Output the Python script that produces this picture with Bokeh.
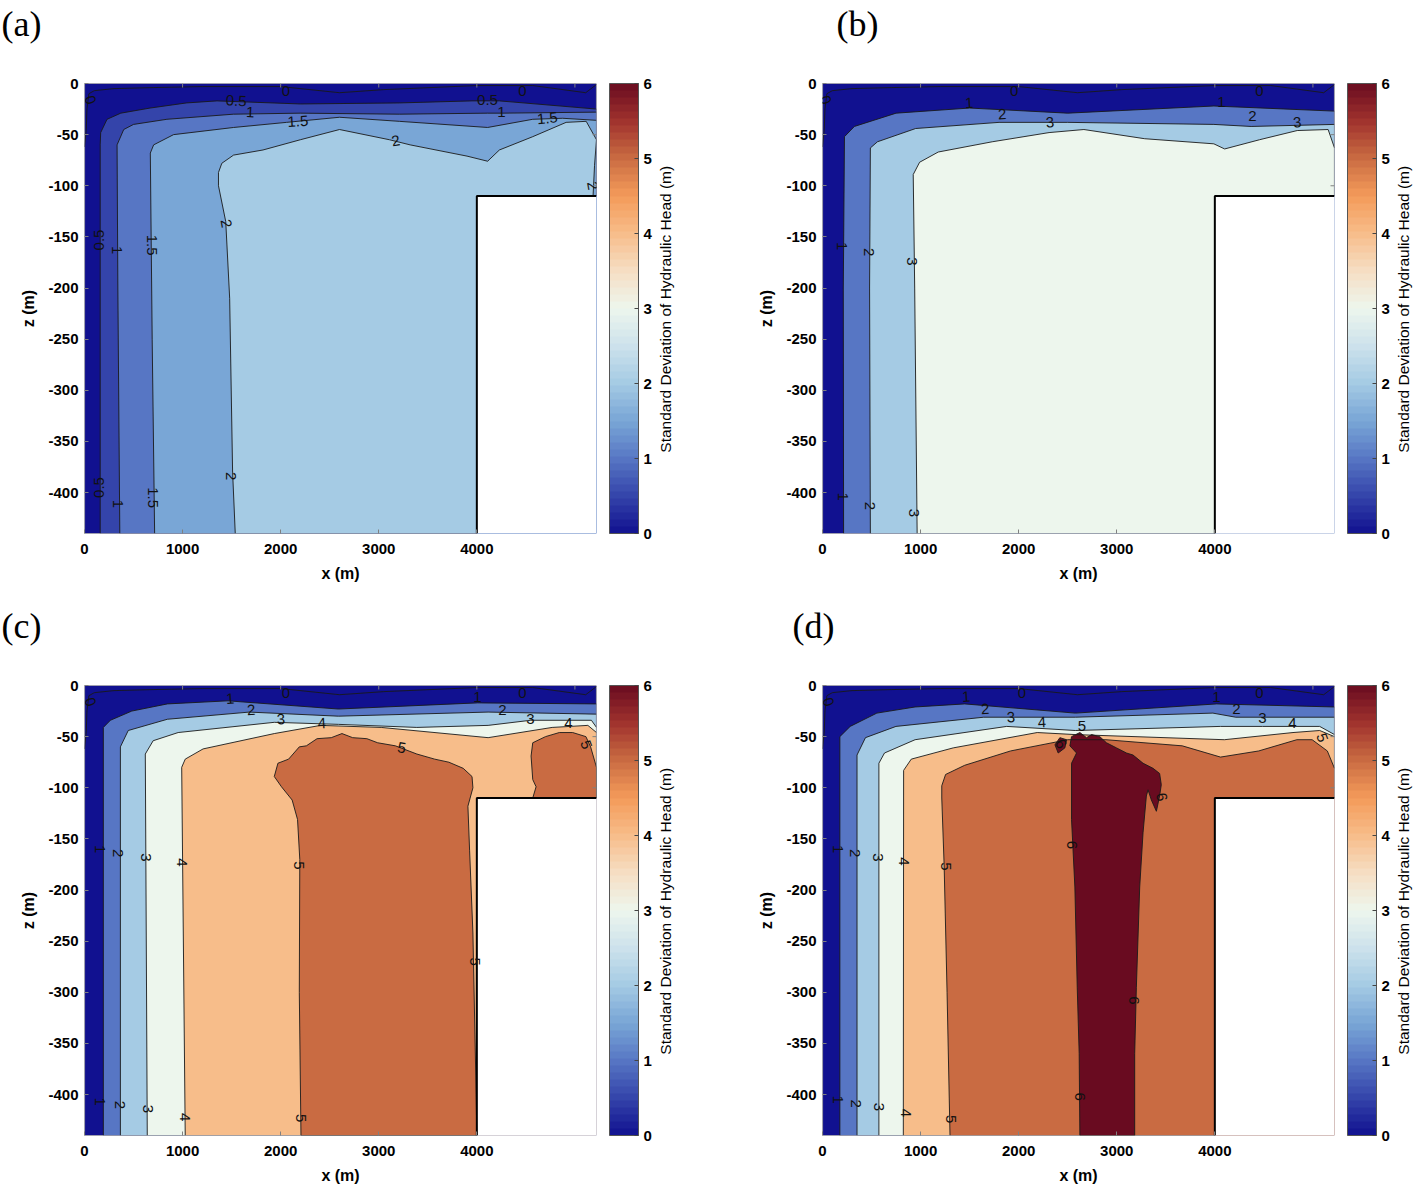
import numpy as np
from bokeh.plotting import figure
from bokeh.models import (ColorBar, LinearColorMapper, FixedTicker, Range1d,
                          ColumnDataSource, LinearAxis)
from bokeh.layouts import gridplot
from bokeh.embed import file_html
from bokeh.resources import INLINE
from bokeh.core.properties import value

# ---------------- domain ----------------
X_MAX = 5220
Z_MIN = -440
X_NOTCH = 4000
Z_NOTCH = -110

# ---------------- colour map (value -> colour anchors) ----------------
CMAP_VALUES = [0, 0.5, 1, 1.5, 2, 2.5, 3, 3.5, 4, 4.5, 5, 5.5, 6]
CMAP_COLORS = ["#111190", "#3444aa", "#5776c4", "#79a6d6", "#a5cbe4", "#cde2ec",
               "#edf6ed", "#f6dec4", "#f7bd8a", "#f49b5a", "#c96b42", "#a0322d", "#690b20"]
N_STEPS = 64

# ---------------- shared 0 contour ----------------
ZERO_X = [0, 18, 25, 45, 100, 300, 700, 1200, 2000, 2600, 3050, 4000, 4570, 5110, 5220]
ZERO_Z = [-62, -45, -25, -10, -7, -5, -4, -3, -3, -9, -6, -2, -2, -9, -1]

# ---------------- panel (a) ----------------
A_LEVELS = [0.5, 1, 1.5, 2]
A_L05_X = [160, 160, 165, 230, 370, 670, 1040, 1350, 2200, 3210, 3950, 4230, 5220]
A_L05_Z = [-440, -60, -48, -35, -29, -24, -19, -17, -20, -19, -17, -17, -25]
A_L1_X = [360, 340, 332, 400, 500, 840, 1520, 2200, 3210, 4110, 4260, 5220]
A_L1_Z = [-440, -200, -60, -45, -40, -35, -30, -29, -30, -29, -29, -28]
A_L15_X = [715, 690, 671, 705, 908, 1520, 2060, 2600, 3210, 4110, 4570, 4875, 5220]
A_L15_Z = [-440, -250, -68, -60, -50, -43, -38, -33, -37, -43, -35, -34, -36]
A_L2_X = [1537, 1510, 1480, 1440, 1366, 1366, 1400, 1520, 1820, 2200, 2600, 3110, 3320,
          3900, 4110, 4230, 4570, 4910, 5115, 5220, 5200, 5185]
A_L2_Z = [-440, -380, -210, -135, -100, -87, -78, -70, -65, -55, -45, -55, -60,
          -71, -76, -65, -52, -38, -37, -55, -80, -110]
A_LAB_TEXT = ["0", "0", "0", "0.5", "0.5", "1", "1", "1.5", "1.5", "2", "2", "2", "2",
              "0.5", "1", "1.5", "0.5", "1", "1.5"]
A_LAB_X = [61, 2054, 4465, 1546, 4109, 1688, 4251, 2176, 4719, 3173, 1444, 1495, 5180,
           150, 335, 690, 150, 345, 700]
A_LAB_Z = [-16, -7, -7, -17, -16, -28, -28, -37, -34, -56, -137, -384, -100,
           -153, -163, -158, -395, -411, -405]
A_LAB_ANGLE = [-70, 0, 0, -3, 0, -3, 0, 3, 5, 10, -80, -90, -80,
               90, -90, -90, 90, -90, -90]

# ---------------- panel (b) ----------------
B_LEVELS = [1, 2, 3]
B_L1_X = [215, 212, 224, 325, 750, 1500, 2500, 3990, 5220]
B_L1_Z = [-440, -200, -52, -42, -29, -24, -29, -22, -27]
B_L2_X = [488, 480, 488, 560, 950, 1800, 2500, 3990, 4370, 5220]
B_L2_Z = [-440, -200, -63, -57, -44, -38, -38, -40, -42, -40]
B_L3_X = [965, 940, 925, 990, 1180, 1730, 2310, 2665, 3285, 3990, 4100, 4455, 4840, 5155, 5220]
B_L3_Z = [-440, -200, -89, -77, -67, -57, -48, -45, -54, -59, -64, -55, -46, -45, -63]
B_LAB_TEXT = ["0", "0", "0", "1", "1", "2", "2", "3", "3", "1", "2", "3", "1", "2", "3"]
B_LAB_X = [31, 1953, 4455, 1495, 4068, 1831, 4383, 2319, 4841, 203, 478, 915, 214, 488, 935]
B_LAB_Z = [-16, -7, -7, -19, -18, -30, -32, -38, -38, -159, -165, -174, -404, -413, -420]
B_LAB_ANGLE = [-70, 0, 0, 3, 0, 3, 0, 5, 5, -90, -90, -90, -90, -90, -90]

# ---------------- panel (c) ----------------
C_LEVELS = [1, 2, 3, 4, 5]
C_L1_X = [192, 192, 264, 482, 845, 1463, 2589, 4006, 5220]
C_L1_Z = [-440, -41, -34, -25, -18, -15, -23, -17, -18]
C_L2_X = [366, 366, 446, 845, 1681, 2589, 4115, 5220]
C_L2_Z = [-440, -60, -44, -33, -26, -30, -26, -28]
C_L3_X = [640, 620, 700, 955, 1935, 2589, 3388, 4115, 4550, 5168, 5220]
C_L3_Z = [-440, -67, -54, -46, -36, -38, -41, -39, -34, -34, -41]
C_L4_X = [1027, 991, 1027, 1209, 1935, 2407, 3025, 4115, 4768, 5132, 5220]
C_L4_Z = [-440, -80, -72, -62, -47, -39, -41, -51, -41, -39, -46]
C_L5_X = [2207, 2190, 2195, 2172, 2117, 2008, 1935, 1972, 2081, 2190, 2262, 2371, 2516,
          2625, 2734, 2879, 2989, 3170, 3388, 3570, 3715, 3861, 3951, 3960, 3909, 3926,
          3960, 3993, 4000]
C_L5_Z = [-440, -300, -170, -131, -112, -99, -89, -76, -72, -60, -59, -52, -51,
          -47, -51, -52, -56, -59, -67, -72, -75, -81, -89, -100, -118, -161,
          -242, -400, -440]
C_L5B_X = [4570, 4604, 4570, 4553, 4570, 4700, 4841, 4977, 5112, 5160, 5220, 5220]
C_L5B_Z = [-110, -99, -92, -69, -56, -50, -46, -46, -50, -60, -80, -110]
C_LAB_TEXT = ["0", "0", "0", "1", "1", "2", "2", "3", "3", "4", "4", "5", "5", "5",
              "1", "2", "3", "4", "5", "1", "2", "3", "4", "5"]
C_LAB_X = [61, 2054, 4465, 1485, 4007, 1698, 4261, 2003, 4546, 2420, 4933, 3234, 5115, 3977,
           153, 346, 631, 997, 2190, 153, 366, 651, 1027, 2207]
C_LAB_Z = [-16, -7, -7, -13, -11, -24, -24, -33, -33, -37, -37, -61, -58, -270,
           -160, -164, -168, -173, -176, -407, -410, -414, -422, -423]
C_LAB_ANGLE = [-70, 0, 0, 3, 0, 3, 0, 3, 0, 3, 0, -10, -70, -90,
               -90, -90, -90, -90, -90, -90, -90, -90, -90, -90]

# ---------------- panel (d) ----------------
D_LEVELS = [1, 2, 3, 4, 5]
D_L1_X = [177, 177, 282, 554, 944, 1450, 2578, 4018, 5220]
D_L1_Z = [-440, -50, -40, -27, -21, -18, -27, -18, -21]
D_L2_X = [352, 352, 438, 749, 1644, 2578, 3980, 4213, 5220]
D_L2_Z = [-440, -68, -51, -40, -31, -31, -27, -31, -31]
D_L3_X = [575, 575, 632, 944, 1878, 2578, 4058, 4486, 5069, 5220]
D_L3_Z = [-440, -76, -66, -53, -40, -44, -40, -40, -40, -48]
D_L4_X = [824, 827, 905, 1333, 2189, 2578, 4097, 4797, 5069, 5220]
D_L4_Z = [-440, -83, -72, -61, -46, -48, -53, -46, -44, -50]
D_L5_X = [1300, 1270, 1240, 1216, 1216, 1255, 1450, 1917, 2501, 2890, 3668, 4058, 4447,
          4836, 4992, 5147, 5220]
D_L5_Z = [-440, -300, -175, -110, -98, -87, -78, -64, -53, -53, -59, -70, -64,
          -53, -53, -64, -81]
D_L6_X = [2624, 2617, 2597, 2573, 2539, 2539, 2590, 2522, 2539, 2624, 2692, 2743, 2827,
          2895, 2997, 3099, 3166, 3268, 3370, 3437, 3454, 3437, 3404, 3353, 3319, 3302,
          3268, 3234, 3200, 3183, 3183]
D_L6_Z = [-440, -360, -295, -197, -131, -76, -66, -59, -50, -46, -51, -48, -50,
          -56, -61, -66, -68, -76, -81, -86, -97, -108, -123, -112, -102, -108,
          -144, -197, -295, -360, -440]
D_L6B_X = [2370, 2420, 2488, 2471, 2403]
D_L6B_Z = [-58, -51, -53, -61, -66]
D_LAB_TEXT = ["0", "0", "0", "1", "1", "2", "2", "3", "3", "4", "4", "5", "5",
              "6", "6", "6", "6", "6",
              "1", "2", "3", "4", "5", "1", "2", "3", "4", "5"]
D_LAB_X = [61, 2034, 4455, 1464, 4017, 1658, 4221, 1922, 4486, 2237, 4790, 2645, 5095,
           2431, 3458, 2543, 3173, 2624,
           153, 336, 570, 834, 1261, 153, 346, 580, 854, 1307]
D_LAB_Z = [-16, -7, -7, -11, -11, -23, -23, -31, -32, -36, -37, -40, -51,
           -57, -109, -156, -308, -402,
           -160, -164, -168, -172, -177, -405, -409, -412, -418, -424]
D_LAB_ANGLE = [-70, 0, 0, 3, 0, 3, 0, 3, 0, 3, 0, 0, -70,
               -60, -80, -90, -90, -90,
               -90, -90, -90, -90, -90, -90, -90, -90, -90, -90]

CB_TICKS = [0, 1, 2, 3, 4, 5, 6]
X_TICKS = [0, 1000, 2000, 3000, 4000]
TOP_TICKS = [1000, 2000, 3000, 4000, 5000]
RIGHT_TICKS = [-50, -100]
Z_TICKS = [0, -50, -100, -150, -200, -250, -300, -350, -400]
CB_TITLE = "Standard Deviation of Hydraulic Head (m)"
CB_TITLE_Z = -361           # where the rotated colour-bar title starts (bottom end)

FRAME_W = 512
FRAME_H = 450
PX_X = X_MAX / FRAME_W      # metres per screen pixel (x)
PX_Z = 440 / FRAME_H        # metres per screen pixel (z)
NBSP = "\u00a0"


def hex2rgb(h):
    return [int(h[i:i + 2], 16) for i in (1, 3, 5)]


ANCHOR_RGB = np.array([hex2rgb(c) for c in CMAP_COLORS], dtype=float)


def color_at(v):
    rgb = [np.interp(v, CMAP_VALUES, ANCHOR_RGB[:, k]) for k in range(3)]
    return "#%02x%02x%02x" % tuple(int(round(c)) for c in rgb)


PALETTE = [color_at(v) for v in (np.arange(N_STEPS) + 0.5) * 6.0 / N_STEPS]

SANS = value("Liberation Sans")


def region(xs, zs):
    # area on the high side of an open contour: close along the right edge and the bottom
    px = list(xs) + [X_MAX, X_MAX]
    pz = list(zs) + [zs[-1], Z_MIN]
    return px, pz


def make_panel(tag, tag_x, tag_pad, levels, lines, blobs, lab, first_row, first_col):
    top = 83
    bottom = 69 if first_row else 56
    right = 142 if first_col else 84
    p = figure(frame_width=FRAME_W, frame_height=FRAME_H,
               x_range=Range1d(0, X_MAX), y_range=Range1d(Z_MIN, 0),
               output_backend="svg", toolbar_location=None,
               min_border_left=84, min_border_right=right,
               min_border_top=top, min_border_bottom=bottom)
    p.outline_line_color = None
    p.grid.visible = False
    p.background_fill_color = "white"

    # base band (lowest level)
    p.patch([0, X_MAX, X_MAX, 0], [0, 0, Z_MIN, Z_MIN], fill_color=color_at(0),
            line_color=None)
    for lev, (xs, zs) in zip(levels, lines):
        px, pz = region(xs, zs)
        p.patch(px, pz, fill_color=color_at(lev), line_color=None)
    for lev, xs, zs in blobs:
        p.patch(xs, zs, fill_color=color_at(lev), line_color=None)
    # notch (outside the model domain)
    p.patch([X_NOTCH, X_MAX, X_MAX, X_NOTCH], [Z_NOTCH, Z_NOTCH, Z_MIN, Z_MIN],
            fill_color="white", line_color=None)

    # contour lines
    p.line(ZERO_X, ZERO_Z, line_color="#1a1a1a", line_width=0.9)
    for xs, zs in lines:
        p.line(xs, zs, line_color="#1a1a1a", line_width=0.9)
    for lev, xs, zs in blobs:
        p.line(list(xs) + [xs[0]], list(zs) + [zs[0]], line_color="#1a1a1a", line_width=0.9)

    # domain outline
    p.line([0, 0, X_MAX, X_MAX], [Z_MIN, 0, 0, Z_NOTCH], line_color="#7f7f7f", line_width=1.2)
    p.line([X_NOTCH, 0], [Z_MIN, Z_MIN], line_color="#7f7f7f", line_width=1.2)
    p.line([X_MAX, X_NOTCH, X_NOTCH], [Z_NOTCH, Z_NOTCH, Z_MIN], line_color="black", line_width=2)

    # box ticks on the top and right edges
    p.segment(x0=TOP_TICKS, y0=[0] * len(TOP_TICKS), x1=TOP_TICKS,
              y1=[-4 * PX_Z] * len(TOP_TICKS), line_color="#808080", line_width=1)
    p.segment(x0=[X_MAX] * len(RIGHT_TICKS), y0=RIGHT_TICKS,
              x1=[X_MAX - 4 * PX_X] * len(RIGHT_TICKS), y1=RIGHT_TICKS,
              line_color="#808080", line_width=1)

    # contour labels
    src = ColumnDataSource(dict(x=lab[0], y=lab[1], text=lab[2], angle=lab[3]))
    p.text(x="x", y="y", text="text", angle="angle", angle_units="deg", source=src,
           text_font=SANS, text_font_size="15px", text_color="#111111",
           text_align="center", text_baseline="middle")

    # axes
    p.xaxis.ticker = FixedTicker(ticks=X_TICKS)
    p.yaxis.ticker = FixedTicker(ticks=Z_TICKS)
    p.yaxis.major_label_overrides = {t: str(t) for t in Z_TICKS}
    for ax in (p.xaxis[0], p.yaxis[0]):
        ax.axis_line_color = None
        ax.major_tick_in = 4
        ax.major_tick_out = 0
        ax.minor_tick_line_color = None
        ax.major_tick_line_color = "#808080"
        ax.major_label_text_font = "Liberation Sans"
        ax.major_label_text_font_style = "bold"
        ax.major_label_text_font_size = "15px"
        ax.major_label_text_color = "black"
        ax.axis_label_text_font = "Liberation Sans"
        ax.axis_label_text_font_style = "bold"
        ax.axis_label_text_font_size = "16px"
        ax.axis_label_text_color = "black"
    p.xaxis.axis_label = "x (m)"
    p.yaxis.axis_label = "z (m)"
    p.xaxis.major_label_standoff = 10
    p.xaxis.axis_label_standoff = 8
    p.yaxis.major_label_standoff = 6
    p.yaxis.axis_label_standoff = 8

    # panel tag "(a)" etc. as the single tick label of a bare top axis
    t_ax = LinearAxis(ticker=FixedTicker(ticks=[tag_x]), axis_line_color=None,
                      major_tick_line_color=None, minor_tick_line_color=None,
                      major_label_overrides={tag_x: tag + NBSP * tag_pad},
                      major_label_standoff=34,
                      major_label_text_font="Liberation Serif",
                      major_label_text_font_size="36px",
                      major_label_text_font_style="normal",
                      major_label_text_color="black")
    p.add_layout(t_ax, "above")

    # colour bar
    mapper = LinearColorMapper(palette=PALETTE, low=0, high=6)
    cb = ColorBar(color_mapper=mapper, ticker=FixedTicker(ticks=CB_TICKS),
                  location=(525, 0), width=29, height=FRAME_H, padding=0, margin=0,
                  label_standoff=5, major_label_text_font="Liberation Sans",
                  major_label_text_font_style="bold", major_label_text_font_size="15px",
                  major_label_text_color="black",
                  major_tick_line_color="#444444", major_tick_in=4, major_tick_out=0,
                  minor_tick_line_color=None,
                  bar_line_color="#555555", background_fill_alpha=0, border_line_color=None)
    p.add_layout(cb, "center")

    # colour-bar title: rotated single tick label of a bare right axis
    r_ax = LinearAxis(ticker=FixedTicker(ticks=[CB_TITLE_Z]), axis_line_color=None,
                      major_tick_line_color=None, minor_tick_line_color=None,
                      major_label_overrides={CB_TITLE_Z: CB_TITLE},
                      major_label_orientation=np.pi / 2,
                      major_label_standoff=63,
                      major_label_text_font="Liberation Sans",
                      major_label_text_font_size="15.5px",
                      major_label_text_font_style="normal",
                      major_label_text_color="black")
    p.add_layout(r_ax, "right")
    return p


pa = make_panel("(a)", 0, 14, A_LEVELS,
                [(A_L05_X, A_L05_Z), (A_L1_X, A_L1_Z), (A_L15_X, A_L15_Z), (A_L2_X, A_L2_Z)],
                [], (A_LAB_X, A_LAB_Z, A_LAB_TEXT, A_LAB_ANGLE), True, True)
pb = make_panel("(b)", round((857 - 822) * PX_X), 0, B_LEVELS,
                [(B_L1_X, B_L1_Z), (B_L2_X, B_L2_Z), (B_L3_X, B_L3_Z)],
                [], (B_LAB_X, B_LAB_Z, B_LAB_TEXT, B_LAB_ANGLE), True, False)
pc = make_panel("(c)", 0, 14, C_LEVELS,
                [(C_L1_X, C_L1_Z), (C_L2_X, C_L2_Z), (C_L3_X, C_L3_Z), (C_L4_X, C_L4_Z)],
                [(5, C_L5_X, C_L5_Z), (5, C_L5B_X, C_L5B_Z)],
                (C_LAB_X, C_LAB_Z, C_LAB_TEXT, C_LAB_ANGLE), False, True)
pd_ = make_panel("(d)", 0, 2, D_LEVELS,
                 [(D_L1_X, D_L1_Z), (D_L2_X, D_L2_Z), (D_L3_X, D_L3_Z), (D_L4_X, D_L4_Z),
                  (D_L5_X, D_L5_Z)],
                 [(6, D_L6_X, D_L6_Z), (6, D_L6B_X, D_L6B_Z)],
                 (D_LAB_X, D_LAB_Z, D_LAB_TEXT, D_LAB_ANGLE), False, False)

grid = gridplot([[pa, pb], [pc, pd_]], toolbar_location=None)
open("out.html", "w").write(file_html(grid, INLINE))
